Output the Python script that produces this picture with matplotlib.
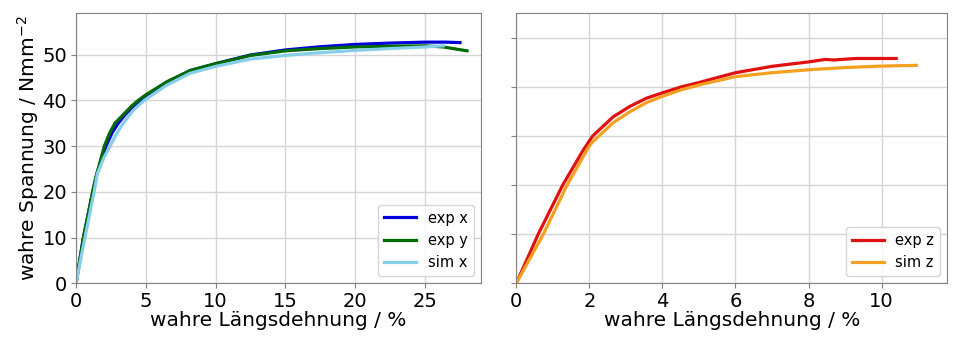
import matplotlib
matplotlib.use("Agg")
import matplotlib.pyplot as plt

# left panel: x / y direction (strain in %, stress in N/mm^2)
exp_x_strain = [0, 0.5, 1.2, 1.5, 2.15, 2.6, 3.03, 3.5, 4.0, 5.0, 6.5, 8.2, 10, 12.5, 15, 17.5, 20, 22.5, 25, 26.5, 27.5]
exp_x_stress = [0, 9.5, 20, 24, 30, 33.0, 35.0, 36.8, 38.4, 41.0, 44.0, 46.5, 48.0, 49.9, 51.0, 51.7, 52.2, 52.5, 52.7, 52.7, 52.6]

exp_y_strain = [0, 0.53, 1.19, 1.43, 2.03, 2.4, 2.79, 3.5, 4.0, 4.47, 5.0, 6.5, 8.17, 10, 12.5, 15, 17.5, 20, 22.5, 25, 26.3, 27.2, 28.0]
exp_y_stress = [0, 10, 20, 23.3, 30, 32.8, 35, 37.2, 38.8, 40.0, 41.2, 44.0, 46.5, 48.0, 49.8, 50.8, 51.3, 51.65, 51.8, 51.9, 51.65, 51.2, 50.8]

sim_x_strain = [0, 0.64, 1.3, 1.53, 2.0, 2.44, 2.9, 3.39, 4.1, 4.9, 6.5, 8.17, 10, 12.5, 15, 17.5, 20, 22.5, 25, 26.3]
sim_x_stress = [0, 10, 20, 24, 27.5, 30, 32.7, 35, 37.8, 40, 43.3, 45.9, 47.4, 49.0, 49.8, 50.4, 50.9, 51.3, 51.65, 51.9]

# right panel: z direction
exp_z_strain = [0, 0.6, 1.27, 1.83, 2.09, 2.65, 3.1, 3.56, 4.0, 4.51, 5.0, 6.0, 7.0, 8.0, 8.45, 8.7, 9.3, 10.0, 10.4]
exp_z_stress = [0, 10, 20, 27.1, 30, 33.9, 36.0, 37.7, 38.8, 40.0, 40.9, 42.9, 44.2, 45.1, 45.6, 45.5, 45.8, 45.8, 45.8]

sim_z_strain = [0, 0.74, 1.39, 2.0, 2.09, 2.65, 3.1, 3.56, 4.0, 4.51, 5.0, 6.0, 7.0, 8.0, 9.0, 10.0, 10.95]
sim_z_stress = [0, 10, 20, 28.0, 28.8, 32.7, 34.9, 36.8, 38.1, 39.4, 40.4, 42.1, 42.9, 43.5, 43.95, 44.25, 44.4]

xlabel = "wahre Längsdehnung / %"
ylabel = "wahre Spannung / Nmm$^{-2}$"

fig = plt.figure(figsize=(9.6, 3.38), dpi=100)
ax1 = fig.add_axes([0.0792, 0.1618, 0.4218, 0.7988])
ax2 = fig.add_axes([0.5378, 0.1618, 0.449, 0.7988])

lw = 2.3
ax1.plot(exp_x_strain, exp_x_stress, color="#0000dd", lw=lw, label="exp x")
ax1.plot(exp_y_strain, exp_y_stress, color="#006b00", lw=lw, label="exp y")
ax1.plot(sim_x_strain, sim_x_stress, color="skyblue", lw=lw, label="sim x")

ax2.plot(exp_z_strain, exp_z_stress, color="#e01010", lw=lw, label="exp z")
ax2.plot(sim_z_strain, sim_z_stress, color="#f5a020", lw=lw, label="sim z")

ax1.set_xlim(0, 29)
ax1.set_ylim(0, 59)
ax1.set_xticks([0, 5, 10, 15, 20, 25])
ax1.set_yticks([0, 10, 20, 30, 40, 50])

ax2.set_xlim(0, 11.8)
ax2.set_ylim(0, 55)
ax2.set_xticks([0, 2, 4, 6, 8, 10])
ax2.set_yticks([0, 10, 20, 30, 40, 50])
ax2.set_yticklabels([])

ax1.set_ylabel(ylabel, fontsize=14.5, labelpad=1)
for ax in (ax1, ax2):
    ax.set_xlabel(xlabel, fontsize=14.5, labelpad=0)
    ax.grid(True, color="#d5d5d5", lw=1)
    ax.tick_params(labelsize=14, color="#808080", length=3.5, pad=3)
    for sp in ax.spines.values():
        sp.set_color("#808080")
    ax.legend(loc="lower right", fontsize=10.5, handlelength=2.2, framealpha=0.8)

fig.savefig("out.png", dpi=100)
